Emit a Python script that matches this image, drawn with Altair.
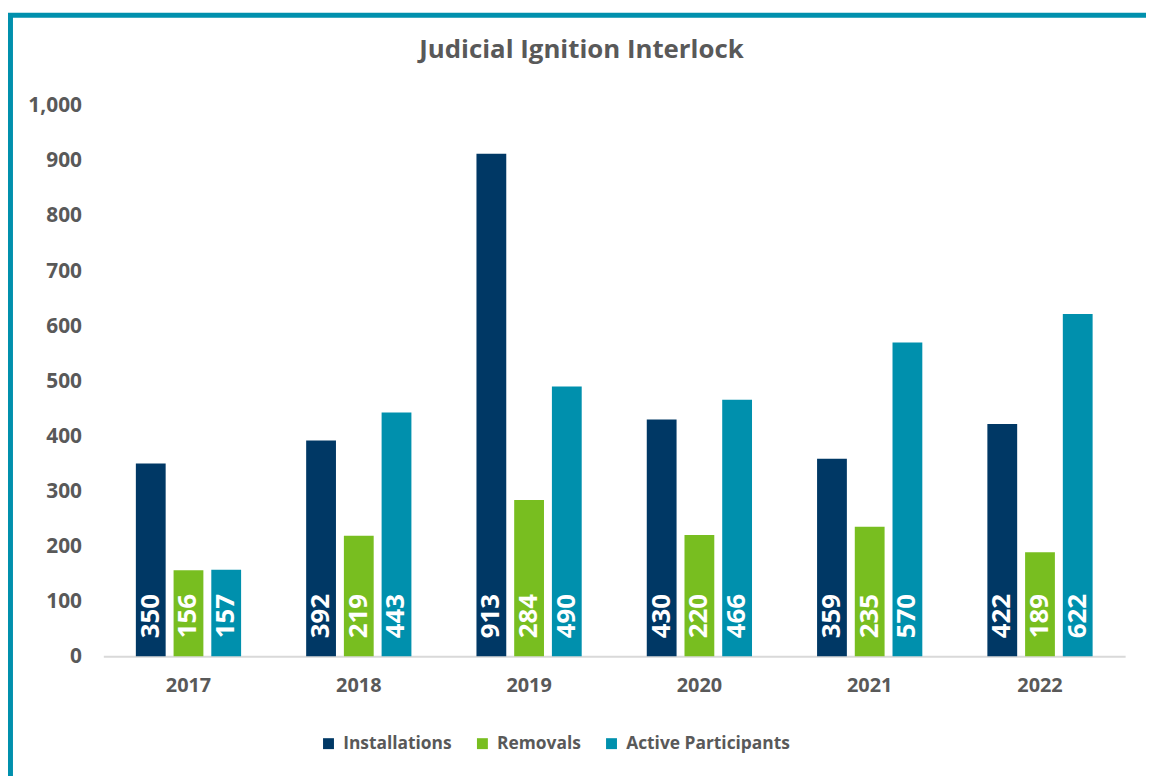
import altair as alt
import pandas as pd

years = ["2017", "2018", "2019", "2020", "2021", "2022"]
series = ["Installations", "Removals", "Active Participants"]
installations = [350, 392, 913, 430, 359, 422]
removals = [156, 219, 284, 220, 235, 189]
active = [157, 443, 490, 466, 570, 622]
colors = ["#003865", "#78be20", "#0090ad"]
y_ticks = [0, 100, 200, 300, 400, 500, 600, 700, 800, 900, 1000]

rows = []
for name, vals in zip(series, [installations, removals, active]):
    for y, v in zip(years, vals):
        rows.append({"year": y, "series": name, "value": v})
df = pd.DataFrame(rows)

FONT = "Open Sans"
GRAY = "#595959"

x_enc = alt.X("year:N", sort=years, title=None,
              scale=alt.Scale(paddingInner=0.382, paddingOuter=0.191),
              axis=alt.Axis(labelAngle=0, ticks=False, domainColor="#d9d9d9",
                            domainWidth=2, labelPadding=20, labelFontSize=20,
                            labelFontWeight="bold", labelColor=GRAY, labelFont=FONT))
xo_enc = alt.XOffset("series:N", sort=series,
                     scale=alt.Scale(paddingInner=0.21, paddingOuter=0))

bars = alt.Chart(df).mark_bar().encode(
    x=x_enc,
    xOffset=xo_enc,
    y=alt.Y("value:Q", title=None,
            scale=alt.Scale(domain=[0, 1000], nice=False),
            axis=alt.Axis(values=y_ticks, format=",.0f", grid=False, domain=False,
                          ticks=False, labelPadding=22, labelFontSize=21,
                          labelFontWeight="bold", labelColor=GRAY, labelFont=FONT)),
    color=alt.Color("series:N", sort=series,
                    scale=alt.Scale(domain=series, range=colors),
                    legend=alt.Legend(title=None, orient="none", direction="horizontal",
                                      columns=3, legendX=218, legendY=633, padding=0,
                                      symbolType="square", symbolSize=121,
                                      symbolStrokeWidth=0, symbolOpacity=1,
                                      labelOffset=6, columnPadding=22, labelLimit=400,
                                      labelFontSize=17.5, labelFontWeight="bold",
                                      labelColor=GRAY, labelFont=FONT)),
)

labels = alt.Chart(df).mark_text(
    angle=270, align="left", baseline="middle", dx=18,
    fontSize=26, fontWeight="bold", color="white", font=FONT
).encode(
    x=alt.X("year:N", sort=years),
    xOffset=xo_enc,
    y=alt.Y(datum=0, type="quantitative"),
    text=alt.Text("value:Q"),
)

border = alt.Chart(pd.DataFrame({"a": [0]})).mark_rect(
    filled=False, stroke="#0090ad", strokeWidth=5
).encode(
    x=alt.value(-93.5), x2=alt.value(1100), y=alt.value(-91.5), y2=alt.value(800)
)

chart = alt.layer(border, bars, labels).properties(
    width=1029, height=554,
    autosize=alt.AutoSizeParams(type="none"),
    padding={"left": 96, "top": 96, "right": 21, "bottom": 118},
    title=alt.TitleParams("Judicial Ignition Interlock", fontSize=26, fontWeight="bold",
                          color=GRAY, font=FONT, anchor="middle", dx=-33,
                          baseline="alphabetic", offset=-72),
).configure_view(stroke=None)

chart.save("out.html", embed_options={"renderer": "svg", "actions": False})
